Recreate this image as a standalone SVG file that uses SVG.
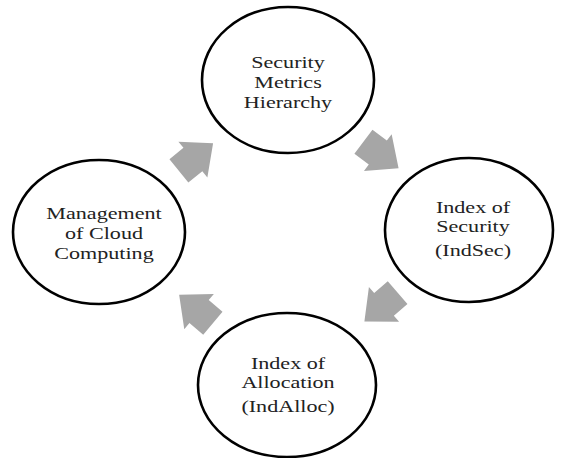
<svg xmlns="http://www.w3.org/2000/svg" xmlns:xlink="http://www.w3.org/1999/xlink" width="561" height="458" viewBox="0 0 561 458">
  <style>
    .node { fill: #ffffff; stroke: #000000; stroke-width: 2.6; }
    .label { font-family: "Liberation Serif", "Times New Roman", serif; font-size: 17px; fill: #222222; text-anchor: middle; }
    .flow { fill: #a6a6a6; }
  </style>
  <defs>
    <!-- block arrow pointing along +x, centred on the origin -->
    <polygon id="blockArrow" points="22,0 -4,-23 -4,-15 -22,-15 -22,15 -4,15 -4,23"/>
  </defs>
  <rect width="561" height="458" fill="#ffffff"/>

  <g id="connectors" class="flow">
    <use xlink:href="#blockArrow" transform="translate(196,157) rotate(-39)"/>
    <use xlink:href="#blockArrow" transform="translate(381,155) rotate(37)"/>
    <use xlink:href="#blockArrow" transform="translate(381,307) rotate(139)"/>
    <use xlink:href="#blockArrow" transform="translate(196,309) rotate(220)"/>
  </g>

  <g id="security-metrics-hierarchy">
    <ellipse class="node" cx="288" cy="80" rx="86" ry="73"/>
    <g transform="translate(288,0) scale(1.3,1)">
      <text class="label" x="0" y="68">Security</text>
      <text class="label" x="0" y="88">Metrics</text>
      <text class="label" x="0" y="108">Hierarchy</text>
    </g>
  </g>

  <g id="index-of-security">
    <ellipse class="node" cx="469" cy="230" rx="84" ry="72"/>
    <g transform="translate(473,0) scale(1.3,1)">
      <text class="label" x="0" y="213">Index of</text>
      <text class="label" x="0" y="232">Security</text>
      <text class="label" x="0" y="256">(IndSec)</text>
    </g>
  </g>

  <g id="index-of-allocation">
    <ellipse class="node" cx="287" cy="385" rx="89" ry="72"/>
    <g transform="translate(288,0) scale(1.3,1)">
      <text class="label" x="0" y="369">Index of</text>
      <text class="label" x="0" y="388">Allocation</text>
      <text class="label" x="0" y="412">(IndAlloc)</text>
    </g>
  </g>

  <g id="management-of-cloud-computing">
    <ellipse class="node" cx="99" cy="232" rx="86" ry="72"/>
    <g transform="translate(104,0) scale(1.3,1)">
      <text class="label" x="0" y="219">Management</text>
      <text class="label" x="0" y="239">of Cloud</text>
      <text class="label" x="0" y="259">Computing</text>
    </g>
  </g>
</svg>
